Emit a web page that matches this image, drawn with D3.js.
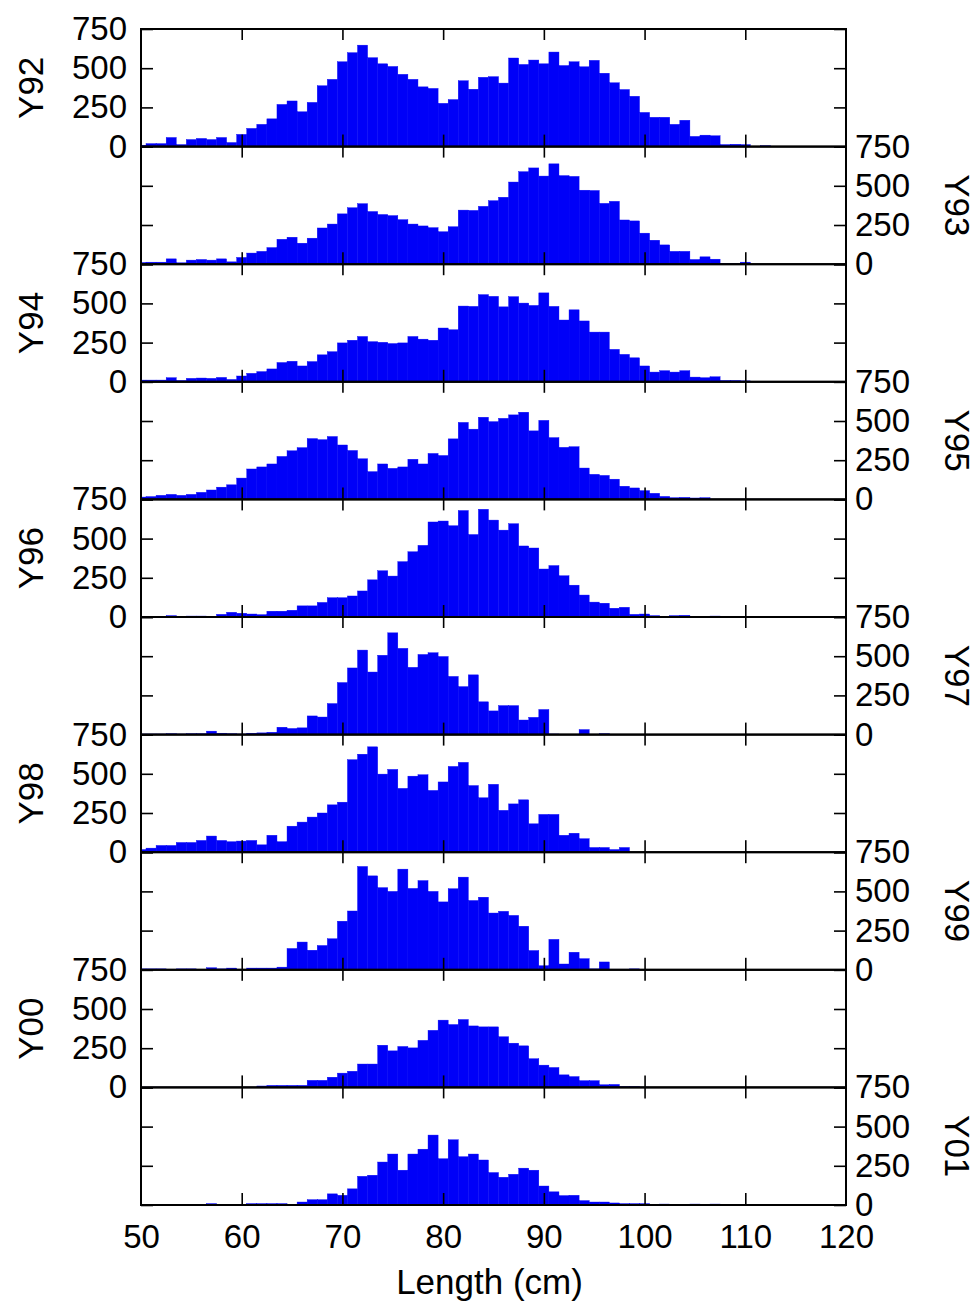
<!DOCTYPE html>
<html>
<head>
<meta charset="utf-8">
<script src="https://cdn.jsdelivr.net/npm/d3@7"></script>
<style>
    body { margin: 0; background: #fff; }
    svg text { font-family: Arial, "Liberation Sans", sans-serif; fill: #000; }
</style>
</head>
<body>
<svg class="chart"></svg>
<script>

// histogram counts per 1 cm length bin, bins centred on 50, 51, 52 ...
const FIRST_BIN = 50;
const YEAR_LABELS = ['Y92', 'Y93', 'Y94', 'Y95', 'Y96', 'Y97', 'Y98', 'Y99', 'Y00', 'Y01'];
const Y_TICKS = [0, 250, 500, 750];
const X_TICKS = [50, 60, 70, 80, 90, 100, 110, 120];
const X_INNER_TICKS = [60, 70, 80, 90, 100, 110];

const Y92_COUNTS = [9, 19, 19, 58, 13, 45, 52, 45, 58, 26,
    78, 116, 142, 177, 269, 291, 222, 282, 388, 429,
    541, 599, 647, 567, 528, 511, 461, 429, 381, 371,
    276, 300, 420, 366, 442, 446, 405, 565, 524, 552,
    528, 603, 517, 541, 509, 550, 468, 407, 364, 321,
    218, 187, 187, 142, 168, 65, 73, 69, 13, 15,
    13, 2, 6, 2, 2];
const Y93_COUNTS = [11, 13, 13, 34, 9, 26, 30, 26, 34, 15,
    43, 71, 82, 106, 159, 172, 134, 166, 231, 256,
    321, 360, 386, 336, 317, 310, 284, 256, 244, 233,
    207, 239, 345, 343, 369, 405, 427, 524, 590, 614,
    562, 640, 565, 560, 472, 470, 388, 401, 282, 276,
    198, 153, 123, 82, 82, 30, 47, 32, 6, 6,
    13];
const Y94_COUNTS = [11, 11, 11, 26, 9, 22, 24, 22, 28, 15,
    37, 54, 65, 82, 123, 131, 101, 129, 172, 192,
    248, 265, 289, 256, 252, 244, 248, 289, 272, 265,
    343, 332, 483, 481, 556, 545, 478, 543, 502, 487,
    567, 481, 394, 459, 388, 317, 317, 207, 175, 153,
    101, 62, 71, 62, 71, 30, 26, 32, 9, 9,
    6];
const Y95_COUNTS = [15, 18, 26, 32, 26, 32, 45, 60, 78, 93,
    136, 194, 207, 226, 274, 310, 330, 388, 381, 401,
    347, 312, 259, 177, 226, 198, 207, 256, 226, 293,
    280, 386, 491, 448, 524, 496, 517, 539, 556, 437,
    504, 394, 332, 336, 200, 160, 153, 129, 84, 73,
    56, 39, 19, 11, 13, 9, 11, 2, 2, 2,
    2, 2, 2, 2];
const Y96_COUNTS = [4, 2, 2, 9, 4, 6, 6, 4, 17, 30,
    24, 19, 15, 37, 37, 43, 71, 71, 93, 123,
    123, 134, 166, 237, 295, 261, 353, 416, 457, 606,
    612, 582, 679, 526, 687, 618, 554, 595, 453, 440,
    306, 328, 263, 203, 140, 95, 88, 56, 62, 17,
    19, 9, 4, 9, 11, 4, 4, 6, 2];
const Y97_COUNTS = [4, 4, 4, 6, 4, 6, 6, 22, 9, 6,
    4, 9, 11, 15, 47, 39, 43, 119, 112, 198,
    332, 425, 539, 399, 506, 649, 550, 429, 511, 522,
    498, 371, 306, 381, 209, 151, 185, 185, 93, 110,
    160, 4, 2, 2, 32, 2, 6];
const Y98_COUNTS = [17, 26, 43, 43, 62, 62, 75, 103, 75, 67,
    71, 75, 47, 108, 67, 166, 192, 224, 250, 302,
    319, 590, 625, 672, 498, 528, 407, 485, 494, 394,
    448, 547, 573, 425, 347, 433, 267, 308, 334, 181,
    241, 241, 108, 121, 86, 30, 30, 17, 30];
const Y99_COUNTS = [6, 6, 6, 4, 6, 6, 2, 13, 6, 11,
    4, 11, 11, 11, 17, 136, 177, 125, 155, 198,
    310, 375, 659, 599, 524, 500, 642, 519, 569, 500,
    433, 517, 591, 442, 463, 362, 373, 347, 278, 123,
    26, 194, 37, 112, 71, 6, 50, 4, 4, 6];
const Y00_COUNTS = [2, 2, 2, 2, 2, 2, 2, 2, 2, 2,
    2, 2, 9, 13, 13, 13, 13, 45, 45, 65,
    91, 103, 149, 149, 269, 233, 261, 252, 300, 364,
    429, 401, 433, 392, 386, 386, 323, 282, 265, 183,
    142, 127, 80, 69, 43, 43, 17, 19, 6, 6,
    2, 1, 1, 1, 1, 1, 1, 1, 1, 1,
    1, 1, 1, 1, 1];
const Y01_COUNTS = [2, 2, 2, 2, 2, 2, 2, 9, 2, 2,
    2, 9, 9, 9, 9, 2, 19, 34, 34, 71,
    62, 103, 183, 190, 274, 325, 222, 325, 356, 446,
    295, 416, 308, 325, 287, 207, 177, 196, 235, 222,
    121, 84, 60, 62, 28, 19, 19, 13, 9, 9,
    9, 2, 6, 2, 2, 6, 2, 6, 2, 2,
    2, 2, 2, 2, 2];

const ALL_COUNTS = [Y92_COUNTS, Y93_COUNTS, Y94_COUNTS, Y95_COUNTS, Y96_COUNTS,
    Y97_COUNTS, Y98_COUNTS, Y99_COUNTS, Y00_COUNTS, Y01_COUNTS];

const WIDTH = 979;
const HEIGHT = 1302;
const PLOT_LEFT = 141;
const PLOT_RIGHT = 846;
const PLOT_TOP = 29;
const PLOT_BOTTOM = 1205;
const PANEL_HEIGHT = (PLOT_BOTTOM - PLOT_TOP) / YEAR_LABELS.length;
const TICK_LEN = 12;
const NUM_FONT = '33px';
const LABEL_FONT = '35px';
const BAR_COLOR = '#0000f8';

var svg = d3.select('svg.chart')
    .attr('width', WIDTH)
    .attr('height', HEIGHT);

var x = d3.scaleLinear().domain([50, 120]).range([PLOT_LEFT, PLOT_RIGHT]);

function styleAxis(g) {
    g.select('.domain').remove();
    g.selectAll('.tick line').attr('stroke', '#000').attr('stroke-width', 1.6);
    g.selectAll('text').style('font-size', NUM_FONT).style('font-family', 'Arial, "Liberation Sans", sans-serif');
}

function drawPanel(index) {
    var counts = ALL_COUNTS[index];
    var top = PLOT_TOP + index * PANEL_HEIGHT;
    var labelsOnLeft = index % 2 === 0;
    var isLast = index === YEAR_LABELS.length - 1;

    var y = d3.scaleLinear().domain([0, 750]).range([PANEL_HEIGHT, 0]);

    var g = svg.append('g')
        .attr('class', 'panel')
        .attr('transform', 'translate(0,' + top + ')');

    g.append('clipPath')
        .attr('id', 'clip-' + index)
        .append('rect')
            .attr('x', PLOT_LEFT)
            .attr('y', 0)
            .attr('width', PLOT_RIGHT - PLOT_LEFT)
            .attr('height', PANEL_HEIGHT);

    var bins = counts.map((c, i) => ({ center: FIRST_BIN + i, count: c }))
        .filter(b => b.count > 0);

    g.append('g')
        .attr('clip-path', 'url(#clip-' + index + ')')
        .selectAll('rect')
        .data(bins)
        .enter().append('rect')
            .attr('x', b => x(Math.max(50, b.center - 0.5)))
            .attr('y', b => y(b.count))
            .attr('width', b => x(b.center + 0.5) - x(Math.max(50, b.center - 0.5)))
            .attr('height', b => y(0) - y(b.count))
            .attr('fill', BAR_COLOR)
            .attr('stroke', BAR_COLOR)
            .attr('stroke-width', 0.4);

    // y ticks, inward on both sides, numbers only on one side
    var leftAxis = d3.axisLeft(y).tickValues(Y_TICKS).tickSize(-TICK_LEN).tickSizeOuter(0).tickPadding(14);
    var rightAxis = d3.axisRight(y).tickValues(Y_TICKS).tickSize(-TICK_LEN).tickSizeOuter(0).tickPadding(9);
    if (labelsOnLeft) {
        rightAxis.tickFormat('');
    } else {
        leftAxis.tickFormat('');
    }
    g.append('g').attr('transform', 'translate(' + PLOT_LEFT + ',0)').call(leftAxis).call(styleAxis);
    g.append('g').attr('transform', 'translate(' + PLOT_RIGHT + ',0)').call(rightAxis).call(styleAxis);

    g.append('g')
        .call(d3.axisTop(x).tickValues(X_INNER_TICKS).tickSize(-TICK_LEN + 1).tickFormat(''))
        .call(styleAxis);

    var bottomAxis = d3.axisBottom(x).tickSize(-TICK_LEN).tickSizeOuter(0);
    if (isLast) {
        bottomAxis.tickValues(X_TICKS).tickPadding(20).tickFormat(d3.format('d'));
    } else {
        bottomAxis.tickValues(X_INNER_TICKS).tickFormat('');
    }
    var bottomG = g.append('g')
        .attr('transform', 'translate(0,' + PANEL_HEIGHT + ')')
        .call(bottomAxis)
        .call(styleAxis);
    if (isLast) {
        // outer ticks 50 and 120 sit on the frame, no line needed
        bottomG.selectAll('.tick').filter(d => d === 50 || d === 120).select('line').remove();
        bottomG.selectAll('text').style('font-size', '33px');
    }

    g.append('rect')
        .attr('x', PLOT_LEFT)
        .attr('y', 0)
        .attr('width', PLOT_RIGHT - PLOT_LEFT)
        .attr('height', PANEL_HEIGHT)
        .attr('fill', 'none')
        .attr('stroke', '#000')
        .attr('stroke-width', 2);

    var label = g.append('text')
        .attr('text-anchor', 'middle')
        .style('font-size', LABEL_FONT)
        .text(YEAR_LABELS[index]);
    if (labelsOnLeft) {
        label.attr('transform', 'translate(43,' + (PANEL_HEIGHT / 2) + ') rotate(-90)');
    } else {
        label.attr('transform', 'translate(945,' + (PANEL_HEIGHT / 2) + ') rotate(90)');
    }
}

for (var i = 0; i < YEAR_LABELS.length; i++) {
    drawPanel(i);
}

svg.append('text')
    .attr('x', (PLOT_LEFT + PLOT_RIGHT) / 2 - 4)
    .attr('y', 1294)
    .attr('text-anchor', 'middle')
    .style('font-size', LABEL_FONT)
    .text('Length (cm)');

</script>
</body>
</html>
